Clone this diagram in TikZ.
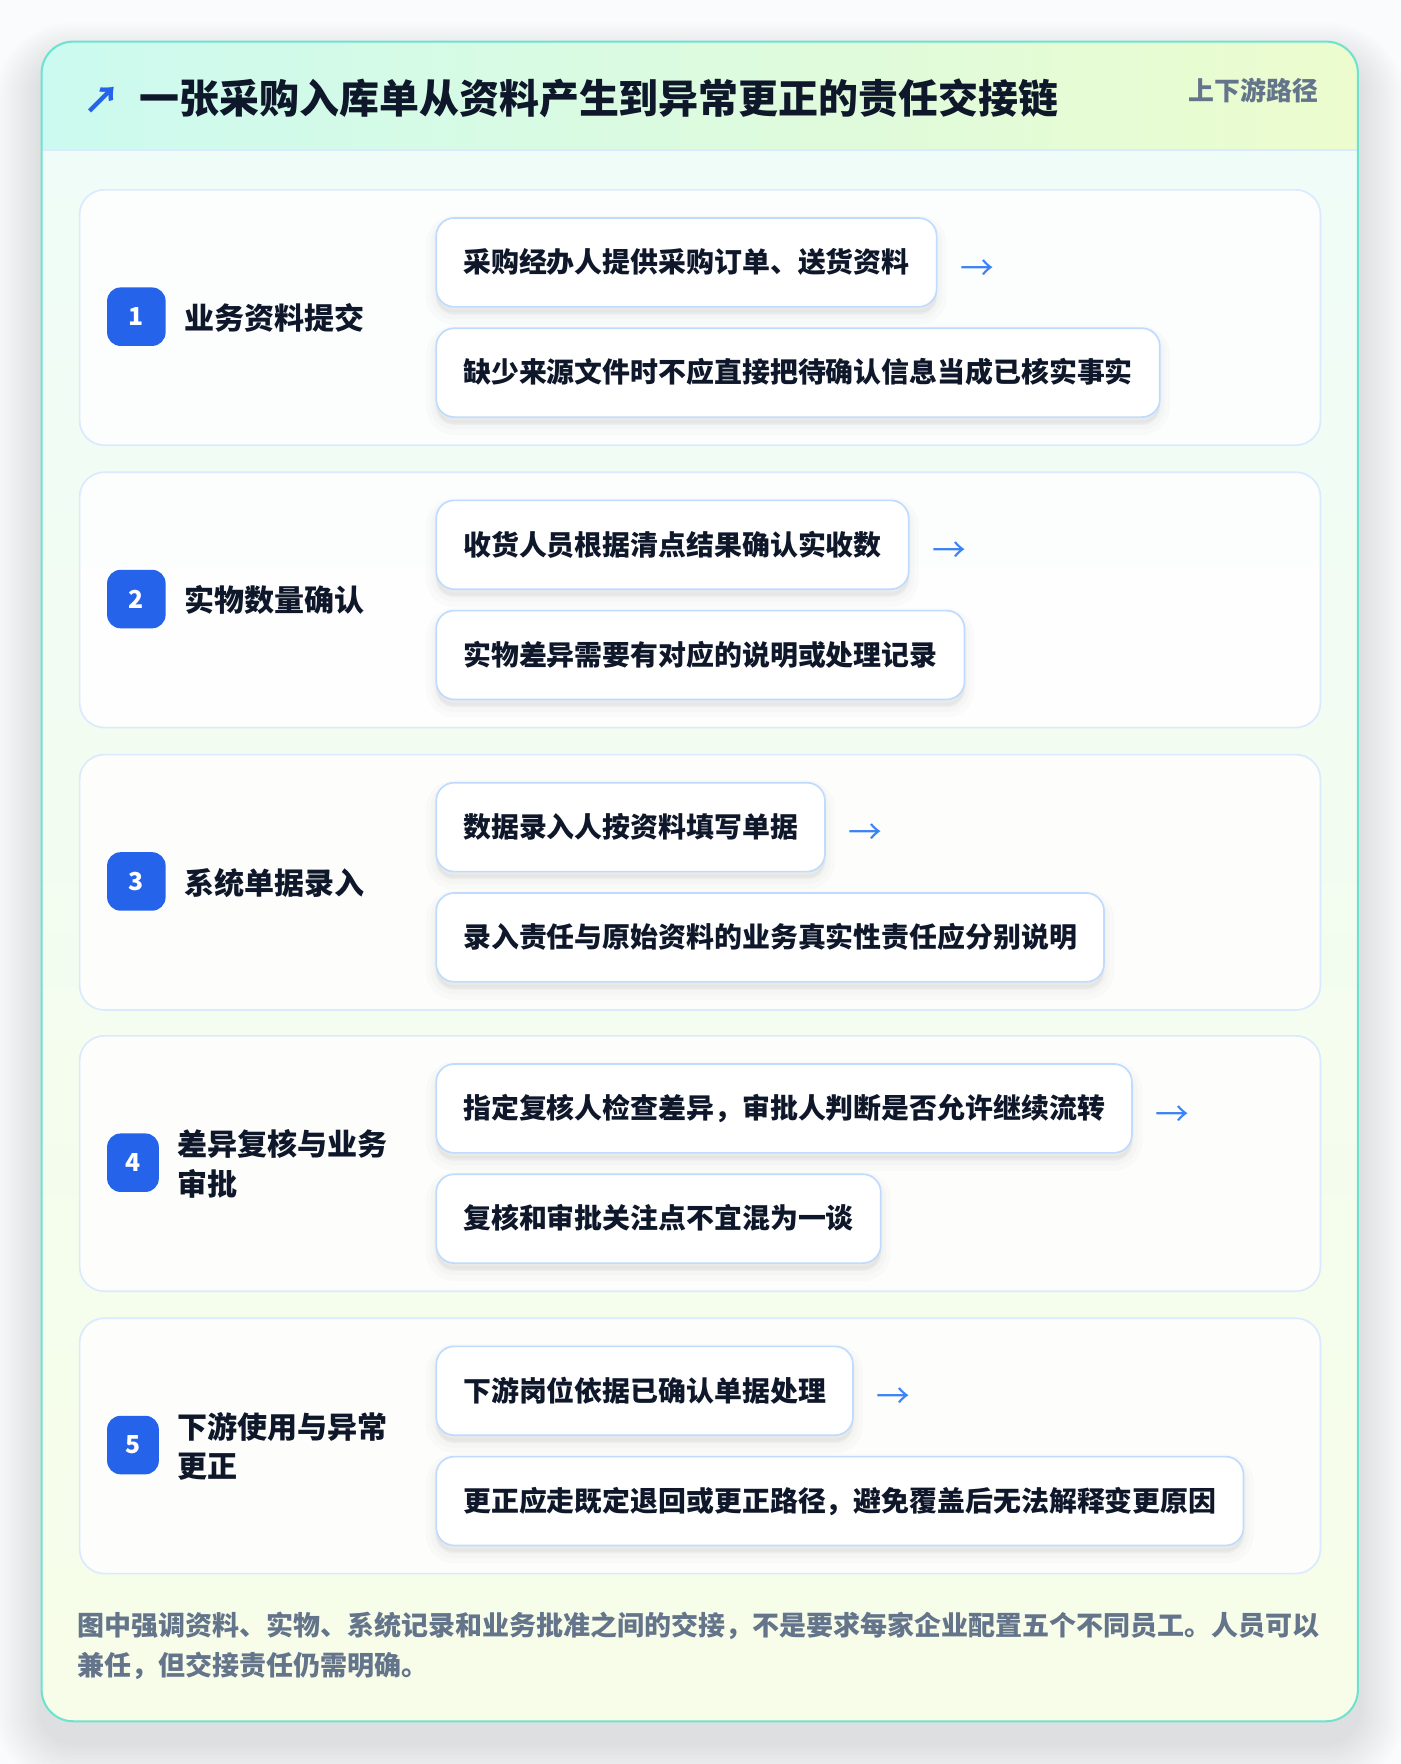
\documentclass[tikz,border=0pt]{standalone}
\usepackage{fontspec}
\setmainfont{Noto Sans CJK SC}
\usetikzlibrary{calc}
\definecolor{pagebg}{HTML}{FAFBFC}
\definecolor{cardborder}{HTML}{6EE2CF}
\definecolor{hdrL}{HTML}{CCFAF0}
\definecolor{hdrR}{HTML}{ECFCCE}
\definecolor{bodyT}{HTML}{EFFCF8}
\definecolor{bodyB}{HTML}{F7FDE8}
\definecolor{panelborder}{HTML}{DBEAFE}
\definecolor{boxborder}{HTML}{BFDBFE}
\definecolor{badgeblue}{HTML}{2563EB}
\definecolor{ink}{HTML}{0F172A}
\definecolor{muted}{HTML}{64748B}
\definecolor{arrowc}{HTML}{3B82F6}
\tikzset{
  softshadow/.style={preaction={fill=black, fill opacity=#1, draw=black, draw opacity=#1,
    line width=18pt, transform canvas={yshift=-7pt}},
    preaction={fill=black, fill opacity=#1, draw=black, draw opacity=#1,
    line width=10pt, transform canvas={yshift=-6pt}},
    preaction={fill=black, fill opacity=#1, draw=black, draw opacity=#1,
    line width=4pt, transform canvas={yshift=-5pt}}},
  panel/.style={draw=panelborder, line width=1.5pt, fill=white, fill opacity=0.85,
    rounded corners=22pt, inner sep=0pt, minimum width=1103pt, minimum height=227pt},
  badgebox/.style={fill=badgeblue, text=white, rounded corners=12pt, inner sep=0pt,
    minimum height=52pt, font=\bfseries\fontsize{22}{22}\selectfont},
  steplabel/.style={text=ink, inner sep=0pt, align=left,
    font=\bfseries\fontsize{26.7}{35}\selectfont},
  subbox/.style={softshadow=0.014, draw=boxborder, line width=1.5pt, fill=white, rounded corners=16pt,
    minimum height=79pt, inner xsep=24pt, inner ysep=0pt, text=ink,
    text height=20.3pt, text depth=2pt,
    font=\bfseries\fontsize{24.8}{24.8}\selectfont},
  arrowtxt/.style={text=arrowc, inner sep=0pt, font=\fontsize{30}{30}\selectfont},
  foottxt/.style={text=muted, inner sep=0pt, font=\bfseries\fontsize{24}{24}\selectfont}
}
\newcommand\steprow[6]{%
  \pgfmathsetmacro\rowcy{#2+113.5}
  \node[panel, anchor=north west] (panel#1) at (70,#2) {};
  \node[badgebox, minimum width=#3pt, anchor=west] (badge#1) at (95,\rowcy) {#1};
  \node[steplabel, anchor=west] (label#1) at ($(badge#1.east)+(16,1)$) {#4};
  \node[subbox, anchor=north west] (boxa#1) at (387,#2+25) {#5};
  \node[subbox, anchor=north west] (boxb#1) at (387,#2+123) {#6};
  \node[arrowtxt, anchor=west] (arr#1) at ($(boxa#1.east)+(20,6.5)$) {→};
}
\begin{document}
\begin{tikzpicture}[x=1pt,y=-1pt]
\useasboundingbox (0,0) rectangle (1245,1568);
\fill[pagebg] (0,0) rectangle (1245,1568);
% card shadow
\foreach \i in {1,...,14}{
  \fill[black, opacity=0.009, rounded corners={28+\i*3}]
    ({37-\i*3},{37+18-\i*2.5}) rectangle ({1207+\i*3},{1530+18+\i*3});
}
% card body
\shade[rounded corners=28pt, top color=bodyT, bottom color=bodyB] (37,37) rectangle (1207,1530);
\begin{scope}
  \clip[rounded corners=28pt] (37,37) rectangle (1207,1530);
  \shade[left color=hdrL, right color=hdrR] (37,37) rectangle (1207,133);
\end{scope}
\draw[panelborder, line width=1.5pt] (37,133.5) -- (1207,133.5);
\draw[cardborder, line width=1.8pt, rounded corners=28pt] (37,37) rectangle (1207,1530);
% header
\node[anchor=west, text=badgeblue, inner sep=0pt, font=\bfseries\fontsize{33}{33}\selectfont] (icon) at (74,89) {↗};
\node[anchor=west, text=ink, inner sep=0pt, font=\bfseries\fontsize{35.5}{36}\selectfont] (title) at (124,87) {一张采购入库单从资料产生到异常更正的责任交接链};
\node[anchor=east, text=muted, inner sep=0pt, font=\bfseries\fontsize{23}{23}\selectfont] (tag) at (1172,80) {上下游路径};
% steps
\steprow{1}{168}{52}{业务资料提交}{采购经办人提供采购订单、送货资料}{缺少来源文件时不应直接把待确认信息当成已核实事实}
\steprow{2}{419}{52}{实物数量确认}{收货人员根据清点结果确认实收数}{实物差异需要有对应的说明或处理记录}
\steprow{3}{670}{52}{系统单据录入}{数据录入人按资料填写单据}{录入责任与原始资料的业务真实性责任应分别说明}
\steprow{4}{920}{46}{差异复核与业务\\审批}{指定复核人检查差异，审批人判断是否允许继续流转}{复核和审批关注点不宜混为一谈}
\steprow{5}{1171}{46}{下游使用与异常\\更正}{下游岗位依据已确认单据处理}{更正应走既定退回或更正路径，避免覆盖后无法解释变更原因}
% footer
\node[foottxt, anchor=west] (foot1) at (69,1445) {图中强调资料、实物、系统记录和业务批准之间的交接，不是要求每家企业配置五个不同员工。人员可以};
\node[foottxt, anchor=west] (foot2) at (69,1481) {兼任，但交接责任仍需明确。};
\end{tikzpicture}
\end{document}
